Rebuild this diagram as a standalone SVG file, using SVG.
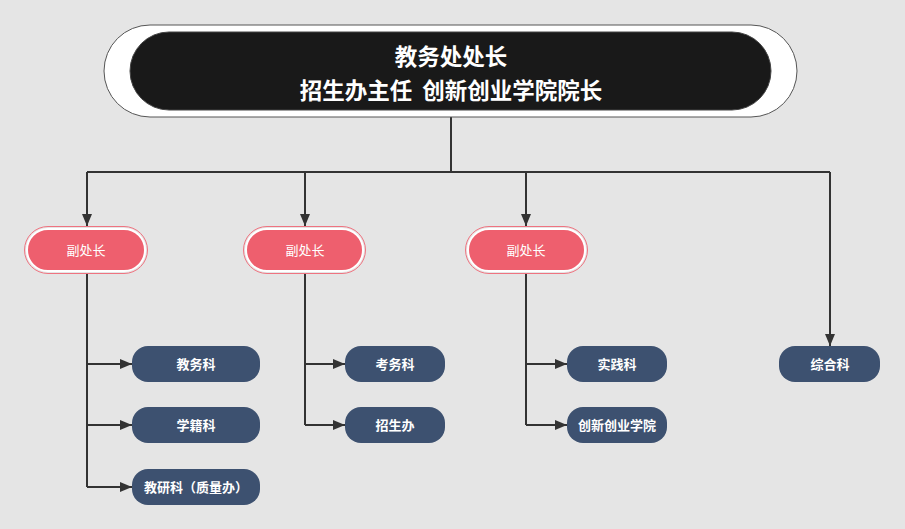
<svg xmlns="http://www.w3.org/2000/svg" width="905" height="529" viewBox="0 0 905 529">
<defs>
<marker id="arr" markerWidth="12" markerHeight="10" refX="12" refY="5" orient="auto" markerUnits="userSpaceOnUse">
<path d="M0,0 L12,5 L0,10 Z" fill="#333333"/>
</marker>
<style>
.ln{fill:none;stroke:#333333;stroke-width:2}
.red{fill:#ee5f6e;stroke:#ffffff;stroke-width:2}
.redo{fill:none;stroke:#ef7380;stroke-width:1}
.blue{fill:#3d5170}
.t{font-family:"Liberation Sans","Noto Sans CJK SC",sans-serif;font-size:13px;fill:#ffffff;text-anchor:middle;dominant-baseline:central}
.tb{font-weight:bold}
.top{font-family:"Noto Sans CJK SC",serif;font-size:22.5px;font-weight:bold;fill:#ffffff;text-anchor:middle;dominant-baseline:central}
</style>
</defs>
<rect width="905" height="529" fill="#e5e5e5"/>
<g id="connectors">
<path class="ln" d="M451,117 V172"/>
<path class="ln" d="M87,172 H830"/>
<path class="ln" d="M87,172 V226" marker-end="url(#arr)"/>
<path class="ln" d="M305,172 V226" marker-end="url(#arr)"/>
<path class="ln" d="M526,172 V226" marker-end="url(#arr)"/>
<path class="ln" d="M830,172 V346" marker-end="url(#arr)"/>
<path class="ln" d="M87,273 V487"/>
<path class="ln" d="M87,364 H132" marker-end="url(#arr)"/>
<path class="ln" d="M87,425 H132" marker-end="url(#arr)"/>
<path class="ln" d="M87,487 H132" marker-end="url(#arr)"/>
<path class="ln" d="M305,273 V425"/>
<path class="ln" d="M305,364 H345" marker-end="url(#arr)"/>
<path class="ln" d="M305,425 H345" marker-end="url(#arr)"/>
<path class="ln" d="M526,273 V425"/>
<path class="ln" d="M526,364 H567" marker-end="url(#arr)"/>
<path class="ln" d="M526,425 H567" marker-end="url(#arr)"/>
</g>
<g id="top">
<rect x="104" y="25" width="693" height="92" rx="46" fill="#ffffff" stroke="#555555" stroke-width="1"/>
<rect x="130" y="32" width="641" height="78" rx="39" fill="#191919" stroke="#444444" stroke-width="1"/>
<text class="top" x="451" y="55">教务处处长</text>
<text class="top" x="451" y="88.5" xml:space="preserve">招生办主任  创新创业学院院长</text>
</g>
<g id="vp1">
<rect class="redo" x="24.5" y="226.5" width="123" height="47" rx="23.5"/>
<rect class="red" x="27" y="229" width="118" height="42" rx="21"/>
<text class="t" x="86" y="250">副处长</text>
</g>
<g id="vp2">
<rect class="redo" x="243.5" y="226.5" width="122" height="47" rx="23.5"/>
<rect class="red" x="246" y="229" width="117" height="42" rx="21"/>
<text class="t" x="305" y="250">副处长</text>
</g>
<g id="vp3">
<rect class="redo" x="465.5" y="226.5" width="122" height="47" rx="23.5"/>
<rect class="red" x="468" y="229" width="117" height="42" rx="21"/>
<text class="t" x="526" y="250">副处长</text>
</g>
<g id="n1"><rect class="blue" x="132" y="346" width="128" height="36" rx="16"/><text class="t tb" x="196" y="364">教务科</text></g>
<g id="n2"><rect class="blue" x="132" y="407" width="128" height="36" rx="16"/><text class="t tb" x="196" y="425">学籍科</text></g>
<g id="n3"><rect class="blue" x="132" y="469" width="128" height="36" rx="16"/><text class="t tb" x="196" y="487">教研科（质量办）</text></g>
<g id="n4"><rect class="blue" x="345" y="346" width="100" height="36" rx="16"/><text class="t tb" x="395" y="364">考务科</text></g>
<g id="n5"><rect class="blue" x="345" y="407" width="100" height="36" rx="16"/><text class="t tb" x="395" y="425">招生办</text></g>
<g id="n6"><rect class="blue" x="567" y="346" width="100" height="36" rx="16"/><text class="t tb" x="617" y="364">实践科</text></g>
<g id="n7"><rect class="blue" x="567" y="407" width="100" height="36" rx="16"/><text class="t tb" x="617" y="425">创新创业学院</text></g>
<g id="n8"><rect class="blue" x="779" y="346" width="101" height="36" rx="16"/><text class="t tb" x="830" y="364">综合科</text></g>
</svg>
